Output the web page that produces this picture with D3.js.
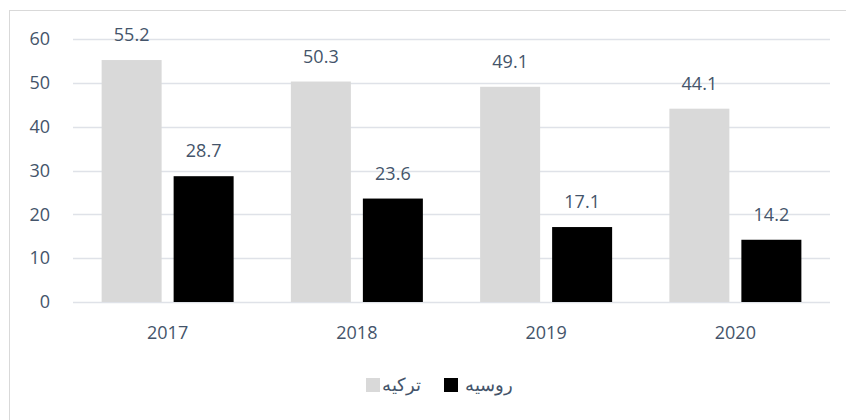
<!DOCTYPE html>
<html>
<head>
<meta charset="utf-8">
<script src="https://cdn.jsdelivr.net/npm/d3@7"></script>
<style>
  body { margin: 0; background: #fff; }
  text { font-family: "Open Sans", "Noto Sans", sans-serif; fill: #44546a; }
</style>
</head>
<body>
<div id="chart"></div>
<script>
// data
const years = ["2017", "2018", "2019", "2020"];
const turkey = [55.2, 50.3, 49.1, 44.1];
const russia = [28.7, 23.6, 17.1, 14.2];
const seriesNames = ["ترکیه", "روسیه"];
const seriesColors = ["#d9d9d9", "#000000"];
const yTicks = [0, 10, 20, 30, 40, 50, 60];

const W = 846, H = 420;
const margin = {top: 39, right: 16, bottom: 117, left: 73};

const svg = d3.select("#chart").append("svg")
    .attr("width", W)
    .attr("height", H);

// outer frame (right and bottom run off the page)
svg.append("rect")
    .attr("x", 9.5).attr("y", 10.5)
    .attr("width", 850).attr("height", 420)
    .attr("fill", "none")
    .attr("stroke", "#d9d9d9");

const x = d3.scaleBand()
    .domain(years)
    .range([margin.left, W - margin.right]);

const y = d3.scaleLinear()
    .domain([0, 60])
    .range([H - margin.bottom - 1, margin.top]);

const barW = 60, gap = 12;

// gridlines
svg.append("g")
  .selectAll("line")
  .data(yTicks)
  .join("line")
    .attr("x1", margin.left)
    .attr("x2", W - margin.right)
    .attr("y1", d => Math.round(y(d)) + 0.5)
    .attr("y2", d => Math.round(y(d)) + 0.5)
    .attr("stroke", "#dfe2e8")
    .attr("stroke-width", 1.5);

// y tick labels
svg.append("g")
  .selectAll("text")
  .data(yTicks)
  .join("text")
    .attr("x", 50)
    .attr("y", d => y(d))
    .attr("dy", "0.35em")
    .attr("text-anchor", "end")
    .attr("font-size", 18)
    .text(d => d);

// bars
const series = [turkey, russia];
series.forEach((vals, si) => {
  const offset = si === 0 ? -gap / 2 - barW : gap / 2;
  const g = svg.append("g");
  g.selectAll("rect")
    .data(vals)
    .join("rect")
      .attr("x", (d, i) => x(years[i]) + x.bandwidth() / 2 + offset)
      .attr("y", d => y(d))
      .attr("width", barW)
      .attr("height", d => y(0) - y(d))
      .attr("fill", seriesColors[si]);
  g.selectAll("text")
    .data(vals)
    .join("text")
      .attr("x", (d, i) => x(years[i]) + x.bandwidth() / 2 + offset + barW / 2)
      .attr("y", d => y(d) - 25)
      .attr("dy", "0.35em")
      .attr("text-anchor", "middle")
      .attr("font-size", 18)
      .text(d => d.toFixed(1));
});

// x axis labels
svg.append("g")
  .selectAll("text")
  .data(years)
  .join("text")
    .attr("x", d => x(d) + x.bandwidth() / 2)
    .attr("y", 333)
    .attr("dy", "0.35em")
    .attr("text-anchor", "middle")
    .attr("font-size", 18)
    .text(d => d);

// legend
const legend = [
  {name: seriesNames[0], color: seriesColors[0], sx: 366, tx: 421},
  {name: seriesNames[1], color: seriesColors[1], sx: 444, tx: 513}
];
const lg = svg.append("g");
lg.selectAll("rect")
  .data(legend)
  .join("rect")
    .attr("x", d => d.sx)
    .attr("y", 378)
    .attr("width", 14)
    .attr("height", 14)
    .attr("fill", d => d.color);
lg.selectAll("text")
  .data(legend)
  .join("text")
    .attr("x", d => d.tx)
    .attr("y", 385)
    .attr("dy", "0.35em")
    .attr("text-anchor", "end")
    .attr("font-family", "'DejaVu Sans', 'Noto Sans', sans-serif")
    .attr("font-size", 18)
    .text(d => d.name);
</script>
</body>
</html>
